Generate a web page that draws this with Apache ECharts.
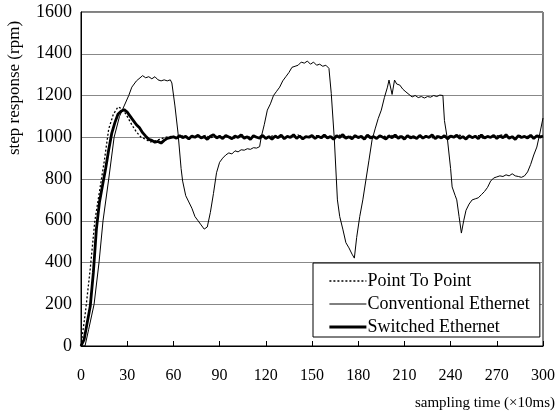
<!DOCTYPE html>
<html><head><meta charset="utf-8">
<script src="https://cdn.jsdelivr.net/npm/echarts@6/dist/echarts.min.js"></script>
<style>html,body{margin:0;padding:0;background:#fff}#c{width:559px;height:414px}</style>
</head><body><div id="c"></div>
<script>
// X tick labels / Y tick labels
const xTicks = [0, 30, 60, 90, 120, 150, 180, 210, 240, 270, 300];
const yTicks = [0, 200, 400, 600, 800, 1000, 1200, 1400, 1600];
const seriesNames = ['Point To Point', 'Conventional Ethernet', 'Switched Ethernet'];

// Point To Point: sampled every 3 units (×10ms)
const p2pStep = 3;
const p2pV = [0,170,370,600,740,880,1040,1110,1145,1135,1100,1060,1025,1000,990,978,982,990,998,1003,
1004,998,1007,1001,995,1006,1000,1009,997,1003,
1008,999,1005,994,1002,1010,998,1004,1000,1007,
996,1003,1009,1001,997,1006,1002,1011,999,1004,
995,1008,1001,1005,998,1003,1010,997,1006,1000,
1004,996,1009,1002,998,1007,1003,1012,999,1005,
1000,1008,995,1004,1001,1009,997,1006,1002,999,
1007,1003,1010,998,1005,1001,1008,996,1004,1000,
1006,1011,999,1003,997,1008,1002,1005,1000,1009,
1004];

// Switched Ethernet: sampled every 2 units
const swStep = 2;
const swV = [0,30,110,190,350,560,690,770,850,940,1020,1070,1110,1125,1132,1120,1100,1080,1060,1045,1022,1005,990,985,976,980,972,985,995,998,
1002,995,1008,998,1004,992,1006,1000,1010,996,
1003,990,1005,1012,997,1004,994,1008,1001,993,
1006,999,1011,995,1002,990,1007,1000,996,1009,
994,1003,991,1005,998,1010,993,1004,999,1012,
995,1006,992,1003,1000,1009,994,1005,997,1011,
996,1004,990,1007,999,1013,995,1002,993,1008,
998,1005,991,1010,997,1003,994,1007,1000,992,
1006,998,1011,995,1004,991,1008,997,1003,994,
1009,996,1005,999,1012,993,1004,997,1008,992,
1006,1000,1010,995,1003,991,1007,998,1005,993,
1011,996,1004,999,1009,994,1006,997,1012,995,
1003,990,1008,999,1004,996,1010,994,1007,1001,
1005];

// Conventional Ethernet: irregular sample times and values
const convT = [0,2.6,5,8.5,11.7,14.3,18,21.5,25,28,31,33,36,40,42,44,46,48,50,52,54,56,58,59,61,63,65,66,68,70,72,74,76,78,80,81,82,84,86,88,90,92,94,96,98,100,102,104,106,108,110,112,114,116,117,119,121,123,125,127,129,131,133,135,137,139,141,143,145,147,149,151,153,155,157,159,161,162.5,164.5,166.5,168,170,172,174,176,177.5,179,181,183,185,187,189,191,193,195,197,199,200,202,203.6,205,207,209,211,213,215,217,219,221,223,225,227,229,231,233,235,236,238,240,241,243,244,245.5,247,248.5,250,252,254,256,258,260,262,264,266,268,270,272,274,276,278,280,282,284,286,288,290,292,294,296,298,300];
const convV = [0,0,80,200,400,600,800,1000,1100,1150,1200,1240,1270,1295,1285,1290,1280,1290,1275,1270,1275,1270,1275,1260,1150,1020,850,790,720,690,660,620,600,580,560,555,570,640,730,830,880,900,915,925,920,935,930,940,938,945,942,950,948,955,1000,1060,1130,1160,1200,1220,1240,1270,1290,1310,1335,1340,1345,1360,1355,1365,1350,1360,1345,1350,1340,1345,1330,1210,990,700,620,560,495,470,440,421,520,620,700,795,890,987,1040,1090,1130,1190,1240,1274,1205,1274,1255,1250,1230,1217,1205,1193,1200,1190,1195,1188,1195,1192,1200,1195,1202,1200,1080,987,850,762,720,700,620,541,600,650,680,700,705,710,725,740,760,790,805,810,815,812,820,815,825,815,812,808,815,834,870,915,953,1020,1092];

const p2pData = p2pV.map((v, i) => [i * p2pStep, v]);
const swData = swV.map((v, i) => [i * swStep, v]);
const convData = convV.map((v, i) => [convT[i], v]);

const lineStyles = [
  {color: '#000', width: 1.3, type: [2, 2]},
  {color: '#000', width: 1, type: 'solid'},
  {color: '#000', width: 2.8, type: 'solid'}
];

const FONT = 'Liberation Serif';
const chart = echarts.init(document.getElementById('c'), null, {renderer: 'canvas'});
chart.setOption({
  animation: false,
  backgroundColor: '#fff',
  color: ['#000', '#000', '#000'],
  textStyle: {fontFamily: FONT, color: '#000'},
  grid: {left: 81, right: 16, top: 12, bottom: 68, show: true, borderColor: '#000', borderWidth: 1, backgroundColor: 'transparent'},
  xAxis: {
    type: 'value', min: xTicks[0], max: xTicks[xTicks.length - 1], interval: 30,
    name: 'sampling time (×10ms)', nameLocation: 'end', nameGap: 0,
    nameTextStyle: {fontFamily: FONT, fontSize: 15, color: '#000', align: 'right', verticalAlign: 'top', padding: [50, -12, 0, 0]},
    axisLine: {show: true, lineStyle: {color: '#000', width: 1}},
    axisTick: {show: true, inside: true, length: 5, lineStyle: {color: '#000'}},
    axisLabel: {fontFamily: FONT, fontSize: 16, color: '#000', margin: 22},
    splitLine: {show: false}
  },
  yAxis: {
    type: 'value', min: yTicks[0], max: yTicks[yTicks.length - 1], interval: 200,
    axisLine: {show: true, lineStyle: {color: '#000', width: 1}},
    axisTick: {show: false},
    axisLabel: {fontFamily: FONT, fontSize: 18, color: '#000', margin: 9, formatter: v => String(v)},
    splitLine: {show: true, lineStyle: {color: '#888', width: 1}}
  },
  graphic: [{
    type: 'text', x: 15, y: 88, rotation: Math.PI / 2,
    style: {text: 'step response (rpm)', font: '17px "Liberation Serif"', fill: '#000', textAlign: 'center', textVerticalAlign: 'middle'}
  }],
  legend: {
    orient: 'vertical', left: 313, top: 263,
    padding: [9, 10, 1, 15], itemGap: 5, itemWidth: 37, itemHeight: 14,
    backgroundColor: '#fff', borderColor: '#000', borderWidth: 1, borderRadius: 0,
    itemStyle: {opacity: 0},
    textStyle: {fontFamily: FONT, fontSize: 18, color: '#000', padding: [0, 0, 0, -4]},
    data: seriesNames.map((n, i) => ({name: n, lineStyle: lineStyles[i], itemStyle: {opacity: 0}}))
  },
  series: [
    {name: seriesNames[0], type: 'line', data: p2pData, showSymbol: false, symbol: 'none', z: 3,
     itemStyle: {color: '#000'}, lineStyle: lineStyles[0]},
    {name: seriesNames[1], type: 'line', data: convData, showSymbol: false, symbol: 'none', z: 2,
     itemStyle: {color: '#000'}, lineStyle: lineStyles[1]},
    {name: seriesNames[2], type: 'line', data: swData, showSymbol: false, symbol: 'none', z: 4,
     itemStyle: {color: '#000'}, lineStyle: lineStyles[2]}
  ]
});
</script></body></html>
